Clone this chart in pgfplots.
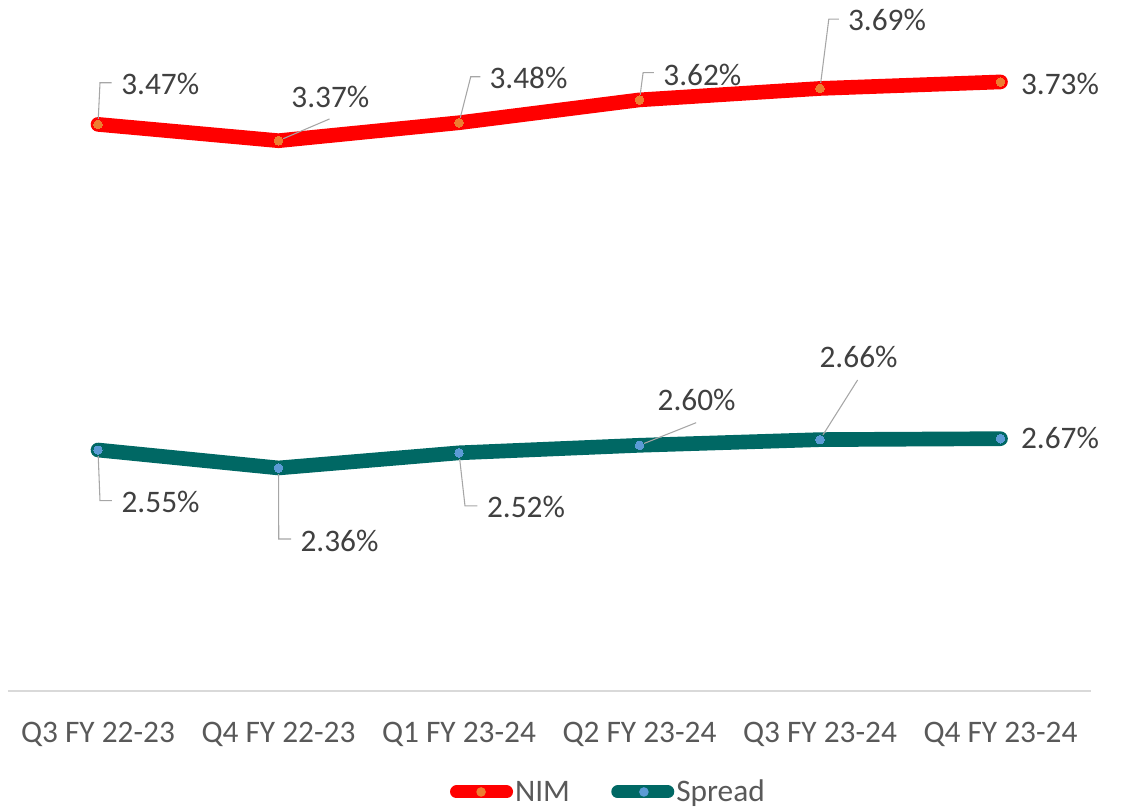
\documentclass[border=0pt]{standalone}
\usepackage{fontspec}
\setmainfont{Carlito}
\usepackage{pgfplots}
\pgfplotsset{compat=1.18}
\definecolor{nimred}{RGB}{255,0,0}
\definecolor{nimorange}{RGB}{237,125,49}
\definecolor{spteal}{RGB}{0,104,100}
\definecolor{spblue}{RGB}{91,155,213}
\definecolor{lblgray}{RGB}{64,64,64}
\definecolor{tickgray}{RGB}{89,89,89}
\definecolor{axgray}{RGB}{217,217,217}
\definecolor{leadgray}{RGB}{166,166,166}
\newcommand{\lblfont}{\fontsize{23.5pt}{28pt}\selectfont}
\tikzset{
  lbl/.style={anchor=west, inner sep=0pt, text=lblgray, font=\lblfont},
  leader/.style={draw=leadgray, line width=0.8pt}
}
\pgfplotsset{
  common/.style={
    scale only axis,
    width=812.25pt, height=495pt,
    xmin=-0.5, xmax=5.5,
    ymin=0,
    clip=false,
  }
}
\begin{document}
\begin{tikzpicture}
% ---------- Spread (primary) ----------
\begin{axis}[
  common,
  ymax=6.984,
  axis x line=bottom,
  axis y line=none,
  x axis line style={-, draw=axgray, line width=1.2pt},
  xtick={0,1,2,3,4,5},
  xticklabels={Q3 FY 22-23, Q4 FY 22-23, Q1 FY 23-24, Q2 FY 23-24, Q3 FY 23-24, Q4 FY 23-24},
  major tick length=0pt,
  xticklabel style={anchor=base, yshift=-38.8pt, font=\lblfont, text=tickgray, inner sep=0pt},
  legend columns=2,
  legend style={at={(axis description cs:0.4084,-0.153)}, anchor=west, draw=none, fill=none,
    inner sep=0pt, outer sep=0pt, font=\lblfont, text=tickgray,
    nodes={inner sep=0pt},
    /tikz/every odd column/.append style={column sep=1.5pt},
    /tikz/every even column/.append style={column sep=31pt}},
]
\addlegendimage{legend image code/.code={
  \draw[line width=9.75pt, line cap=round, nimred] (0pt,0pt) -- (37.5pt,0pt);
  \fill[nimorange, draw=none] (18.4pt,0pt) circle (3.6pt);}}
\addlegendentry{NIM}
\addplot[spteal, line width=11pt, line cap=round, line join=round,
  mark=*, mark size=4pt, mark options={fill=spblue, draw=none, line width=0pt},
  legend image code/.code={
  \draw[line width=9.75pt, line cap=round, spteal] (0pt,0pt) -- (37.5pt,0pt);
  \path[fill=spblue, draw=none] (19.6pt,0pt) circle (3.6pt);}]
  coordinates {(0,2.55) (1,2.36) (2,2.52) (3,2.60) (4,2.66) (5,2.67)};
\addlegendentry{Spread}
% leaders
\draw[leader] (axis cs:0,2.55) -- ++(1.5pt,-38pt) -- ++(8.85pt,0pt);
\draw[leader] (axis cs:1,2.36) -- ++(0.2pt,-53.25pt) -- ++(9.3pt,0pt);
\draw[leader] (axis cs:2,2.52) -- ++(4.5pt,-39.8pt) -- ++(9.2pt,0pt);
\draw[leader] (axis cs:3,2.60) -- ++(42.5pt,16.95pt);
\draw[leader] (axis cs:4,2.66) -- ++(28.2pt,44.7pt);
% labels
\node[lbl] at ([shift={(17.5pt,-39pt)}]axis cs:0,2.55) {2.55\%};
\node[lbl] at ([shift={(16.3pt,-54.9pt)}]axis cs:1,2.36) {2.36\%};
\node[lbl] at ([shift={(20.8pt,-40.35pt)}]axis cs:2,2.52) {2.52\%};
\node[lbl] at ([shift={(13.4pt,34pt)}]axis cs:3,2.60) {2.60\%};
\node[lbl] at ([shift={(-0.5pt,61.7pt)}]axis cs:4,2.66) {2.66\%};
\node[lbl] at ([shift={(15.2pt,0.5pt)}]axis cs:5,2.67) {2.67\%};
% picture frame
\path (axis description cs:0,0) ++(-5.8125pt,-90.75pt) rectangle ++(841.5pt,609pt);
\end{axis}
% ---------- NIM (secondary) ----------
\begin{axis}[
  common,
  ymax=4.042,
  hide axis,
]
\addplot[nimred, line width=11pt, line cap=round, line join=round,
  mark=*, mark size=4pt, mark options={fill=nimorange, draw=none, line width=0pt}]
  coordinates {(0,3.47) (1,3.37) (2,3.48) (3,3.62) (4,3.69) (5,3.73)};
\draw[leader] (axis cs:0,3.47) -- ++(1.5pt,31.2pt) -- ++(8.8pt,0pt);
\draw[leader] (axis cs:1,3.37) -- ++(38.25pt,16.3pt);
\draw[leader] (axis cs:2,3.48) -- ++(8.8pt,34.5pt) -- ++(7.3pt,0pt);
\draw[leader] (axis cs:3,3.62) -- ++(2.7pt,20.4pt) -- ++(8pt,0pt);
\draw[leader] (axis cs:4,3.69) -- ++(6.6pt,52pt) -- ++(7.6pt,0pt);
\node[lbl] at ([shift={(17.25pt,30.2pt)}]axis cs:0,3.47) {3.47\%};
\node[lbl] at ([shift={(9.5pt,33pt)}]axis cs:1,3.37) {3.37\%};
\node[lbl] at ([shift={(22.7pt,33.9pt)}]axis cs:2,3.48) {3.48\%};
\node[lbl] at ([shift={(17.7pt,19.05pt)}]axis cs:3,3.62) {3.62\%};
\node[lbl] at ([shift={(20.85pt,51.1pt)}]axis cs:4,3.69) {3.69\%};
\node[lbl] at ([shift={(15.2pt,-1.6pt)}]axis cs:5,3.73) {3.73\%};
\end{axis}
\end{tikzpicture}
\end{document}
